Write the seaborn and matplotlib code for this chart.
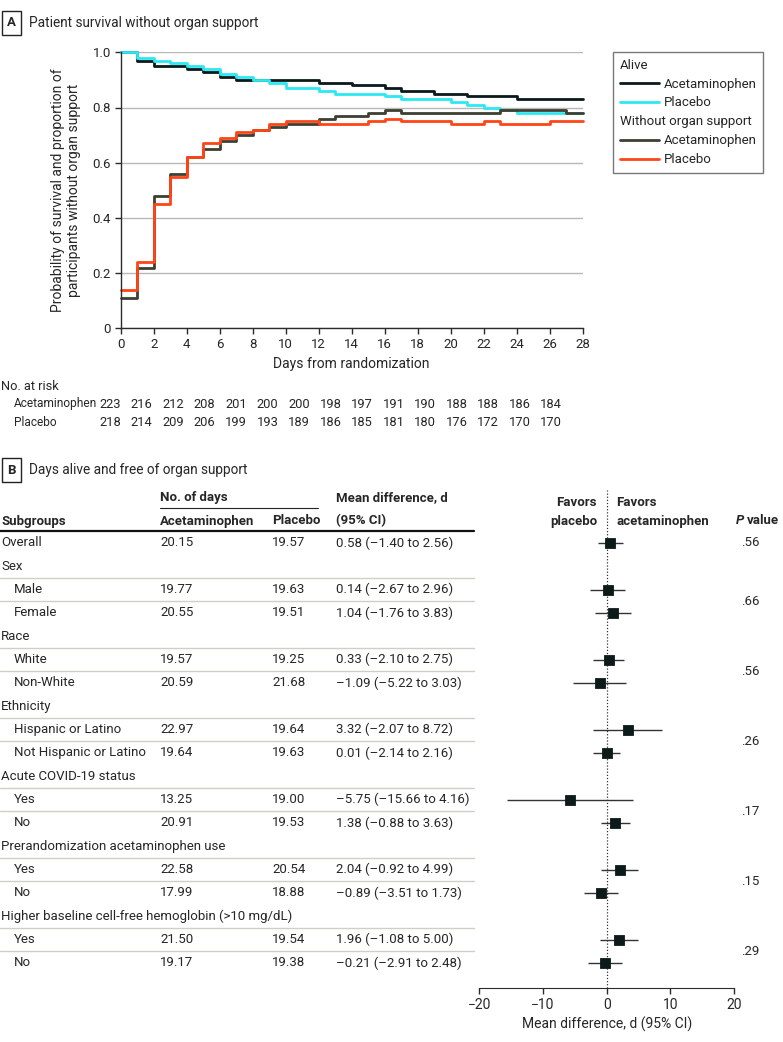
import numpy as np
import pandas as pd
import seaborn as sns
import matplotlib.pyplot as plt
from matplotlib.lines import Line2D
from matplotlib.transforms import blended_transform_factory

# ---------------- panel A data ----------------
days = list(range(29))
alive_acet = [1.00, 0.97, 0.95, 0.95, 0.94, 0.93, 0.91, 0.90, 0.90, 0.90, 0.90, 0.90, 0.89, 0.89, 0.88,
              0.88, 0.87, 0.86, 0.86, 0.85, 0.85, 0.84, 0.84, 0.84, 0.83, 0.83, 0.83, 0.83, 0.83]
alive_plac = [1.00, 0.98, 0.97, 0.96, 0.95, 0.94, 0.92, 0.91, 0.90, 0.89, 0.87, 0.87, 0.86, 0.85, 0.85,
              0.85, 0.84, 0.83, 0.83, 0.83, 0.82, 0.81, 0.80, 0.79, 0.78, 0.78, 0.78, 0.78, 0.78]
free_acet = [0.11, 0.22, 0.48, 0.56, 0.62, 0.65, 0.68, 0.70, 0.72, 0.73, 0.74, 0.74, 0.76, 0.77, 0.77,
             0.78, 0.79, 0.78, 0.78, 0.78, 0.78, 0.78, 0.78, 0.79, 0.79, 0.79, 0.79, 0.78, 0.78]
free_plac = [0.14, 0.24, 0.45, 0.55, 0.62, 0.67, 0.69, 0.71, 0.72, 0.74, 0.75, 0.75, 0.74, 0.74, 0.74,
             0.75, 0.76, 0.75, 0.75, 0.75, 0.74, 0.74, 0.75, 0.74, 0.74, 0.74, 0.75, 0.75, 0.75]

risk_days = list(range(0, 29, 2))
risk_acet = [223, 216, 212, 208, 201, 200, 200, 198, 197, 191, 190, 188, 188, 186, 184]
risk_plac = [218, 214, 209, 206, 199, 193, 189, 186, 185, 181, 180, 176, 172, 170, 170]

# ---------------- panel B data ----------------
subgroups = ["Overall", "Sex", "Male", "Female", "Race", "White", "Non-White", "Ethnicity",
             "Hispanic or Latino", "Not Hispanic or Latino", "Acute COVID-19 status", "Yes", "No",
             "Prerandomization acetaminophen use", "Yes", "No",
             "Higher baseline cell-free hemoglobin (>10 mg/dL)", "Yes", "No"]
headings = [1, 4, 7, 10, 13, 16]
nan = np.nan
days_acet = [20.15, nan, 19.77, 20.55, nan, 19.57, 20.59, nan, 22.97, 19.64, nan, 13.25, 20.91,
             nan, 22.58, 17.99, nan, 21.50, 19.17]
days_plac = [19.57, nan, 19.63, 19.51, nan, 19.25, 21.68, nan, 19.64, 19.63, nan, 19.00, 19.53,
             nan, 20.54, 18.88, nan, 19.54, 19.38]
mean_diff = [0.58, nan, 0.14, 1.04, nan, 0.33, -1.09, nan, 3.32, 0.01, nan, -5.75, 1.38,
             nan, 2.04, -0.89, nan, 1.96, -0.21]
ci_low = [-1.40, nan, -2.67, -1.76, nan, -2.10, -5.22, nan, -2.07, -2.14, nan, -15.66, -0.88,
          nan, -0.92, -3.51, nan, -1.08, -2.91]
ci_high = [2.56, nan, 2.96, 3.83, nan, 2.75, 3.03, nan, 8.72, 2.16, nan, 4.16, 3.63,
           nan, 4.99, 1.73, nan, 5.00, 2.48]
p_values = [".56", ".66", ".56", ".26", ".17", ".15", ".29"]
p_groups = [[0], [2, 3], [5, 6], [8, 9], [11, 12], [14, 15], [17, 18]]

# ---------------- figure ----------------
sns.set_style("white")
plt.rcParams['font.family'] = ['Roboto', 'DejaVu Sans']
plt.rcParams['font.size'] = 9.5

W, H = 783, 1042
fig = plt.figure(figsize=(W / 100, H / 100), dpi=100)


def fx(px):
    return px / W


def fy(py):
    return 1 - py / H


def label_box(px, py, letter, title):
    fig.text(fx(px), fy(py), letter, fontweight='bold', fontsize=9.5, va='center', ha='left',
             bbox=dict(boxstyle='square,pad=0.4', fc='white', ec='#222222', lw=1))
    fig.text(fx(px + 22), fy(py), title, fontsize=9.8, va='center', ha='left')


dark = '#2b2b2b'

# ---------------- panel A ----------------
label_box(7, 23, "A", "Patient survival without organ support")

axA = fig.add_axes([fx(120.7), fy(328.3), fx(582.7) - fx(120.7), fy(52.3) - fy(328.3)])
series = ["Alive Acetaminophen", "Alive Placebo", "Free Acetaminophen", "Free Placebo"]
colors = ['#0a1a1c', '#2ce8f2', '#3d3f33', '#ff4517']
df = pd.DataFrame({
    'day': days * 4,
    'value': alive_acet + alive_plac + free_acet + free_plac,
    'series': np.repeat(series, len(days)),
})
sns.lineplot(data=df, x='day', y='value', hue='series', hue_order=series, palette=colors,
             drawstyle='steps-post', linewidth=2, legend=False, errorbar=None, clip_on=False, ax=axA)
axA.set_xlim(0, 28)
axA.set_ylim(0, 1.0)
axA.set_xticks(range(0, 29, 2))
axA.set_yticks([0, 0.2, 0.4, 0.6, 0.8, 1.0])
axA.set_yticklabels(["0", "0.2", "0.4", "0.6", "0.8", "1.0"])
axA.yaxis.grid(True, color='#b8b8b8', lw=1)
axA.set_axisbelow(True)
sns.despine(ax=axA)
for s in ['left', 'bottom']:
    axA.spines[s].set_color(dark)
    axA.spines[s].set_linewidth(1)
axA.tick_params(axis='both', length=4, width=1, color=dark, labelsize=9.5, pad=3, direction='out',
                bottom=True, left=True)
axA.set_xlabel("Days from randomization", fontsize=10, labelpad=4)
axA.set_ylabel("Probability of survival and proportion of\nparticipants without organ support",
               fontsize=10, labelpad=8)

handles = [Line2D([], [], lw=0), Line2D([], [], color=colors[0], lw=2),
           Line2D([], [], color=colors[1], lw=2), Line2D([], [], lw=0),
           Line2D([], [], color=colors[2], lw=2), Line2D([], [], color=colors[3], lw=2)]
labels = ["Alive", "Acetaminophen", "Placebo", "Without organ support", "Acetaminophen", "Placebo"]
leg = fig.legend(handles, labels, loc='upper left', bbox_to_anchor=(fx(613), fy(52)),
                 bbox_transform=fig.transFigure, frameon=True, fancybox=False, edgecolor='#555555',
                 fontsize=9.5, handlelength=3.0, handletextpad=0.35, labelspacing=0.45,
                 borderpad=0.5, borderaxespad=0)
leg.get_frame().set_linewidth(1)
for col in leg._legend_handle_box.get_children():
    for row in col.get_children():
        box, txt = row.get_children()
        if txt.get_text() in ("Alive", "Without organ support"):
            box.width = 0
            row.sep = 0

# number at risk
axR = fig.add_axes([fx(110), fy(430), fx(551) - fx(110), fy(378) - fy(430)])
axR.set_xlim(0, 28)
axR.set_ylim(2.3, -0.3)
axR.axis('off')
fig.text(fx(1), fy(386), "No. at risk", fontsize=9.2, va='center')
fig.text(fx(14), fy(404), "Acetaminophen", fontsize=8.6, va='center')
fig.text(fx(14), fy(422), "Placebo", fontsize=8.6, va='center')
tr_risk = blended_transform_factory(axR.transData, fig.transFigure)
for d, a, p in zip(risk_days, risk_acet, risk_plac):
    axR.text(d, fy(404), str(a), ha='center', va='center', fontsize=9.3, transform=tr_risk)
    axR.text(d, fy(422), str(p), ha='center', va='center', fontsize=9.3, transform=tr_risk)

# ---------------- panel B ----------------
label_box(7, 470, "B", "Days alive and free of organ support")

row0, step = 543.0, 23.33
top_px, bot_px = 490.0, 988.3
axF = fig.add_axes([fx(479.3), fy(bot_px), fx(734) - fx(479.3), fy(top_px) - fy(bot_px)])
axF.set_xlim(-20, 20)
axF.set_ylim((bot_px - row0) / step, (top_px - row0) / step)
rows = np.arange(len(subgroups))
fdf = pd.DataFrame({'row': rows, 'diff': mean_diff, 'lo': ci_low, 'hi': ci_high}).dropna()
axF.hlines(fdf['row'], fdf['lo'], fdf['hi'], color='#333333', lw=1)
sns.scatterplot(data=fdf, x='diff', y='row', marker='s', s=55, color='#0d1a1a', edgecolor='#0d1a1a',
                zorder=3, ax=axF, legend=False)
axF.axvline(0, color='#333333', lw=0.9, ls=(0, (1, 1.5)))
axF.set_xticks([-20, -10, 0, 10, 20])
axF.set_yticks([])
axF.set_xlabel("Mean difference, d (95% CI)", fontsize=10, labelpad=3)
axF.set_ylabel("")
sns.despine(ax=axF, left=True)
axF.spines['bottom'].set_color(dark)
axF.tick_params(axis='x', length=4, width=1, color=dark, labelsize=10, pad=3, direction='out', bottom=True)

trF = blended_transform_factory(axF.transData, fig.transFigure)
axF.text(-1.5, fy(502), "Favors", ha='right', va='center', fontweight='bold', transform=trF)
axF.text(-1.5, fy(521), "placebo", ha='right', va='center', fontweight='bold', transform=trF)
axF.text(1.5, fy(502), "Favors", ha='left', va='center', fontweight='bold', transform=trF)
axF.text(1.5, fy(521), "acetaminophen", ha='left', va='center', fontweight='bold', transform=trF)
fig.text(fx(736), fy(521), "P", ha='left', va='center', fontweight='bold', fontstyle='italic')
fig.text(fx(747), fy(521), "value", ha='left', va='center', fontweight='bold')

# table
trT = blended_transform_factory(fig.transFigure, axF.transData)
fig.text(fx(160), fy(498), "No. of days", fontweight='bold', va='center')
fig.add_artist(Line2D([fx(160), fx(318)], [fy(508)] * 2, color='#222222', lw=0.8))
fig.text(fx(1), fy(521), "Subgroups", fontweight='bold', va='center')
fig.text(fx(160), fy(521), "Acetaminophen", fontweight='bold', va='center')
fig.text(fx(272), fy(521), "Placebo", fontweight='bold', va='center')
fig.text(fx(336), fy(498), "Mean difference, d", fontweight='bold', va='center')
fig.text(fx(336), fy(521), "(95% CI)", fontweight='bold', va='center')
fig.add_artist(Line2D([0, fx(474)], [fy(531)] * 2, color='#111111', lw=1.6))


def fmt(v):
    return f"{v:.2f}".replace('-', '\u2013')


for i, name in enumerate(subgroups):
    indent = 1 if (i in headings or i == 0) else 14
    fig.text(fx(indent), i, name, va='center', ha='left', transform=trT)
    if not np.isnan(mean_diff[i]):
        fig.text(fx(160), i, f"{days_acet[i]:.2f}", va='center', transform=trT)
        fig.text(fx(272), i, f"{days_plac[i]:.2f}", va='center', transform=trT)
        fig.text(fx(336), i, f"{fmt(mean_diff[i])} ({fmt(ci_low[i])} to {fmt(ci_high[i])})",
                 va='center', transform=trT)
    nxt = i + 1
    if nxt < len(subgroups) and nxt not in headings:
        fig.add_artist(Line2D([0, fx(474)], [i + 0.5] * 2, transform=trT, color='#cfcfc6', lw=1))

for pv, grp in zip(p_values, p_groups):
    fig.text(fx(741), np.mean(grp), pv, va='center', ha='left', transform=trT)

fig.savefig("out.png", dpi=100)
